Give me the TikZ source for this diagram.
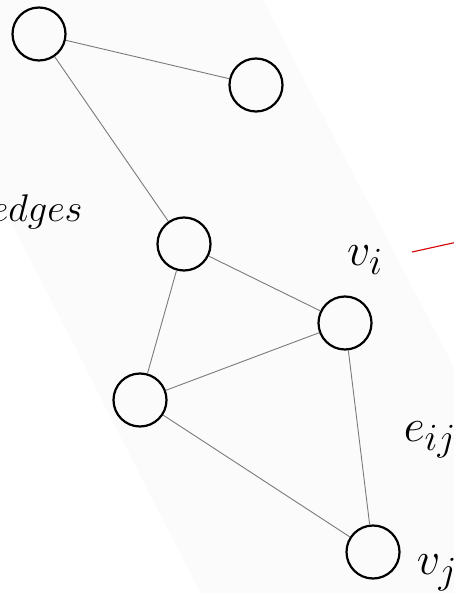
\documentclass[tikz,border=0pt]{standalone}
\usetikzlibrary{positioning}
\definecolor{GraphBack}{HTML}{FBFBFB}
\definecolor{EdgeGray}{HTML}{7A7A7A}
\definecolor{PointerRed}{HTML}{D40000}
\tikzset{vertex/.style={circle,draw=black,line width=2.2pt,minimum size=53pt,inner sep=0pt},
 link/.style={draw=EdgeGray,line width=0.9pt},pointer/.style={draw=PointerRed,line width=1.1pt},
 lbl/.style={font=\Huge,inner sep=0pt,scale=1.85,transform shape},
 wordlbl/.style={font=\Huge,inner sep=0pt,scale=1.55,transform shape}}
\begin{document}
\begin{tikzpicture}[x=1pt,y=-1pt]
\useasboundingbox (0,0) rectangle (454,593);
\fill[GraphBack] (-122,-40)--(242,-40)--(596,640)--(224,640)--cycle;
% vertices
\node[vertex] (a) at (39,34) {};\node[vertex] (b) at (256,85) {};
\node[vertex] (c) at (184,244) {};\node[vertex] (vin) at (345,323) {};
\node[vertex] (e) at (140,400) {};\node[vertex] (vjn) at (373,552) {};
% edges
\draw[link] (a)--(b);\draw[link] (a)--(c);\draw[link] (c)--(vin);\draw[link] (c)--(e);
\draw[link] (e)--(vin);\draw[link] (e)--(vjn);\draw[link] (vin)--(vjn);
% labels
\node[wordlbl,anchor=east] (edgelbl) at (83,212) {$edges$};
\node[lbl] (vilbl) at (365,260) {$v_i$};
\node[lbl] (eijlbl) at (430,440) {$e_{ij}$};
\node[lbl] (vjlbl) at (437,573) {$v_j$};
\coordinate (pa) at (412,252);\coordinate (pb) at (480,237);
\draw[pointer] (pa)--(pb);
\end{tikzpicture}
\end{document}
